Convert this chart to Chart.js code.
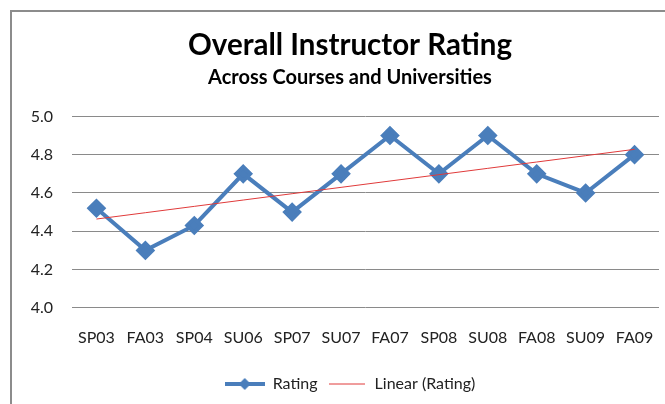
<!DOCTYPE html>
<html>
<head>
<meta charset="utf-8">
<script src="https://cdn.jsdelivr.net/npm/chart.js@4"></script>
<style>
  body { margin: 0; background: #fff; overflow: hidden; }
  #wrap { position: relative; width: 665px; height: 404px; overflow: hidden; }
  #frame { position: absolute; left: 10px; top: 10px; right: -5px; bottom: -5px;
           border-left: 2px solid #8c8c8c; border-top: 2px solid #8c8c8c; }
  canvas { position: absolute; left: 0; top: 0; }
</style>
</head>
<body>
<div id="wrap">
  <div id="frame"></div>
  <!-- the Excel chart object runs past the right edge of the crop, so the canvas does too -->
  <canvas id="rating-chart" width="700" height="404"></canvas>
</div>
<script>
// Semesters and ratings
var terms = ['SP03', 'FA03', 'SP04', 'SU06', 'SP07', 'SU07', 'FA07', 'SP08', 'SU08', 'FA08', 'SU09', 'FA09'];
var ratings = [4.52, 4.30, 4.43, 4.70, 4.50, 4.70, 4.90, 4.70, 4.90, 4.70, 4.60, 4.80];
var yTicks = [4.0, 4.2, 4.4, 4.6, 4.8, 5.0];

// Linear trendline (least squares, like Excel)
var n = ratings.length, sx = 0, sy = 0, sxy = 0, sxx = 0;
for (var i = 0; i < n; i++) {
  sx += i; sy += ratings[i]; sxy += i * ratings[i]; sxx += i * i;
}
var slope = (n * sxy - sx * sy) / (n * sxx - sx * sx);
var icpt = (sy - slope * sx) / n;
var trend = terms.map(function (t, i) { return icpt + slope * i; });

var blue = '#4a7ebb';
var red = '#e03a3a';

// legend swatches
function swatch(w, h, draw) {
  var c = document.createElement('canvas');
  c.width = w; c.height = h;
  draw(c.getContext('2d'));
  return c;
}
var ratingSwatch = swatch(40, 14, function (g) {
  g.strokeStyle = blue; g.lineWidth = 4;
  g.beginPath(); g.moveTo(0, 7); g.lineTo(40, 7); g.stroke();
  g.fillStyle = blue;
  g.beginPath(); g.moveTo(20, 1); g.lineTo(26, 7); g.lineTo(20, 13); g.lineTo(14, 7); g.closePath(); g.fill();
});
var trendSwatch = swatch(36, 4, function (g) {
  g.strokeStyle = red; g.lineWidth = 1;
  g.beginPath(); g.moveTo(0, 2); g.lineTo(36, 2); g.stroke();
});

var font = 'Lato, "Open Sans", sans-serif';

var ctx = document.getElementById('rating-chart').getContext('2d');
var chart = new Chart(ctx, {
  type: 'line',
  data: {
    labels: terms,
    datasets: [{
      label: 'Rating',
      data: ratings,
      borderColor: blue,
      backgroundColor: blue,
      borderWidth: 4,
      pointStyle: 'rectRot',
      pointRadius: 7,
      pointHoverRadius: 7,
      tension: 0,
      order: 2
    }, {
      label: 'Linear (Rating)',
      data: trend,
      borderColor: red,
      borderWidth: 1,
      pointRadius: 0,
      tension: 0,
      order: 1
    }]
  },
  options: {
    responsive: false,
    animation: false,
    layout: { padding: { top: 12, right: 0, bottom: 2, left: 0 } },
    plugins: {
      title: {
        display: true,
        text: 'Overall Instructor Rating',
        color: '#000',
        font: { family: font, size: 29.5, weight: 'bold' },
        padding: { top: 16, bottom: 2 }
      },
      subtitle: {
        display: true,
        text: 'Across Courses and Universities',
        color: '#000',
        font: { family: font, size: 20, weight: 'bold' },
        padding: { top: 0, bottom: 27 }
      },
      legend: {
        position: 'bottom',
        labels: {
          usePointStyle: true,
          pointStyleWidth: 40,
          color: '#222',
          font: { family: font, size: 16 },
          padding: 9,
          generateLabels: function (c) {
            return c.data.datasets.map(function (ds, i) {
              return {
                text: ds.label,
                pointStyle: i === 0 ? ratingSwatch : trendSwatch,
                datasetIndex: i,
                fontColor: '#222',
                lineWidth: 0
              };
            });
          }
        }
      },
      tooltip: { enabled: false }
    },
    scales: {
      x: {
        offset: true,
        grid: { display: false, drawTicks: false },
        border: { display: false },
        ticks: { color: '#222', padding: 20, maxRotation: 0, font: { family: font, size: 16 } }
      },
      y: {
        min: 4.0,
        max: 5.0,
        afterBuildTicks: function (s) { s.ticks = yTicks.map(function (v) { return { value: v }; }); },
        afterFit: function (s) { s.width = 72; },
        grid: { color: '#8a8a8a', drawTicks: false },
        border: { display: false },
        ticks: {
          color: '#222', padding: 19,
          font: { family: font, size: 16 },
          callback: function (v) { return v.toFixed(1); }
        }
      },
      // empty right-hand margin of the plot, just reserves space
      yRight: {
        position: 'right',
        min: 0,
        max: 1,
        afterFit: function (s) { s.width = 41; },
        grid: { display: false },
        border: { display: false },
        ticks: { display: false }
      }
    }
  }
});
</script>
</body>
</html>
